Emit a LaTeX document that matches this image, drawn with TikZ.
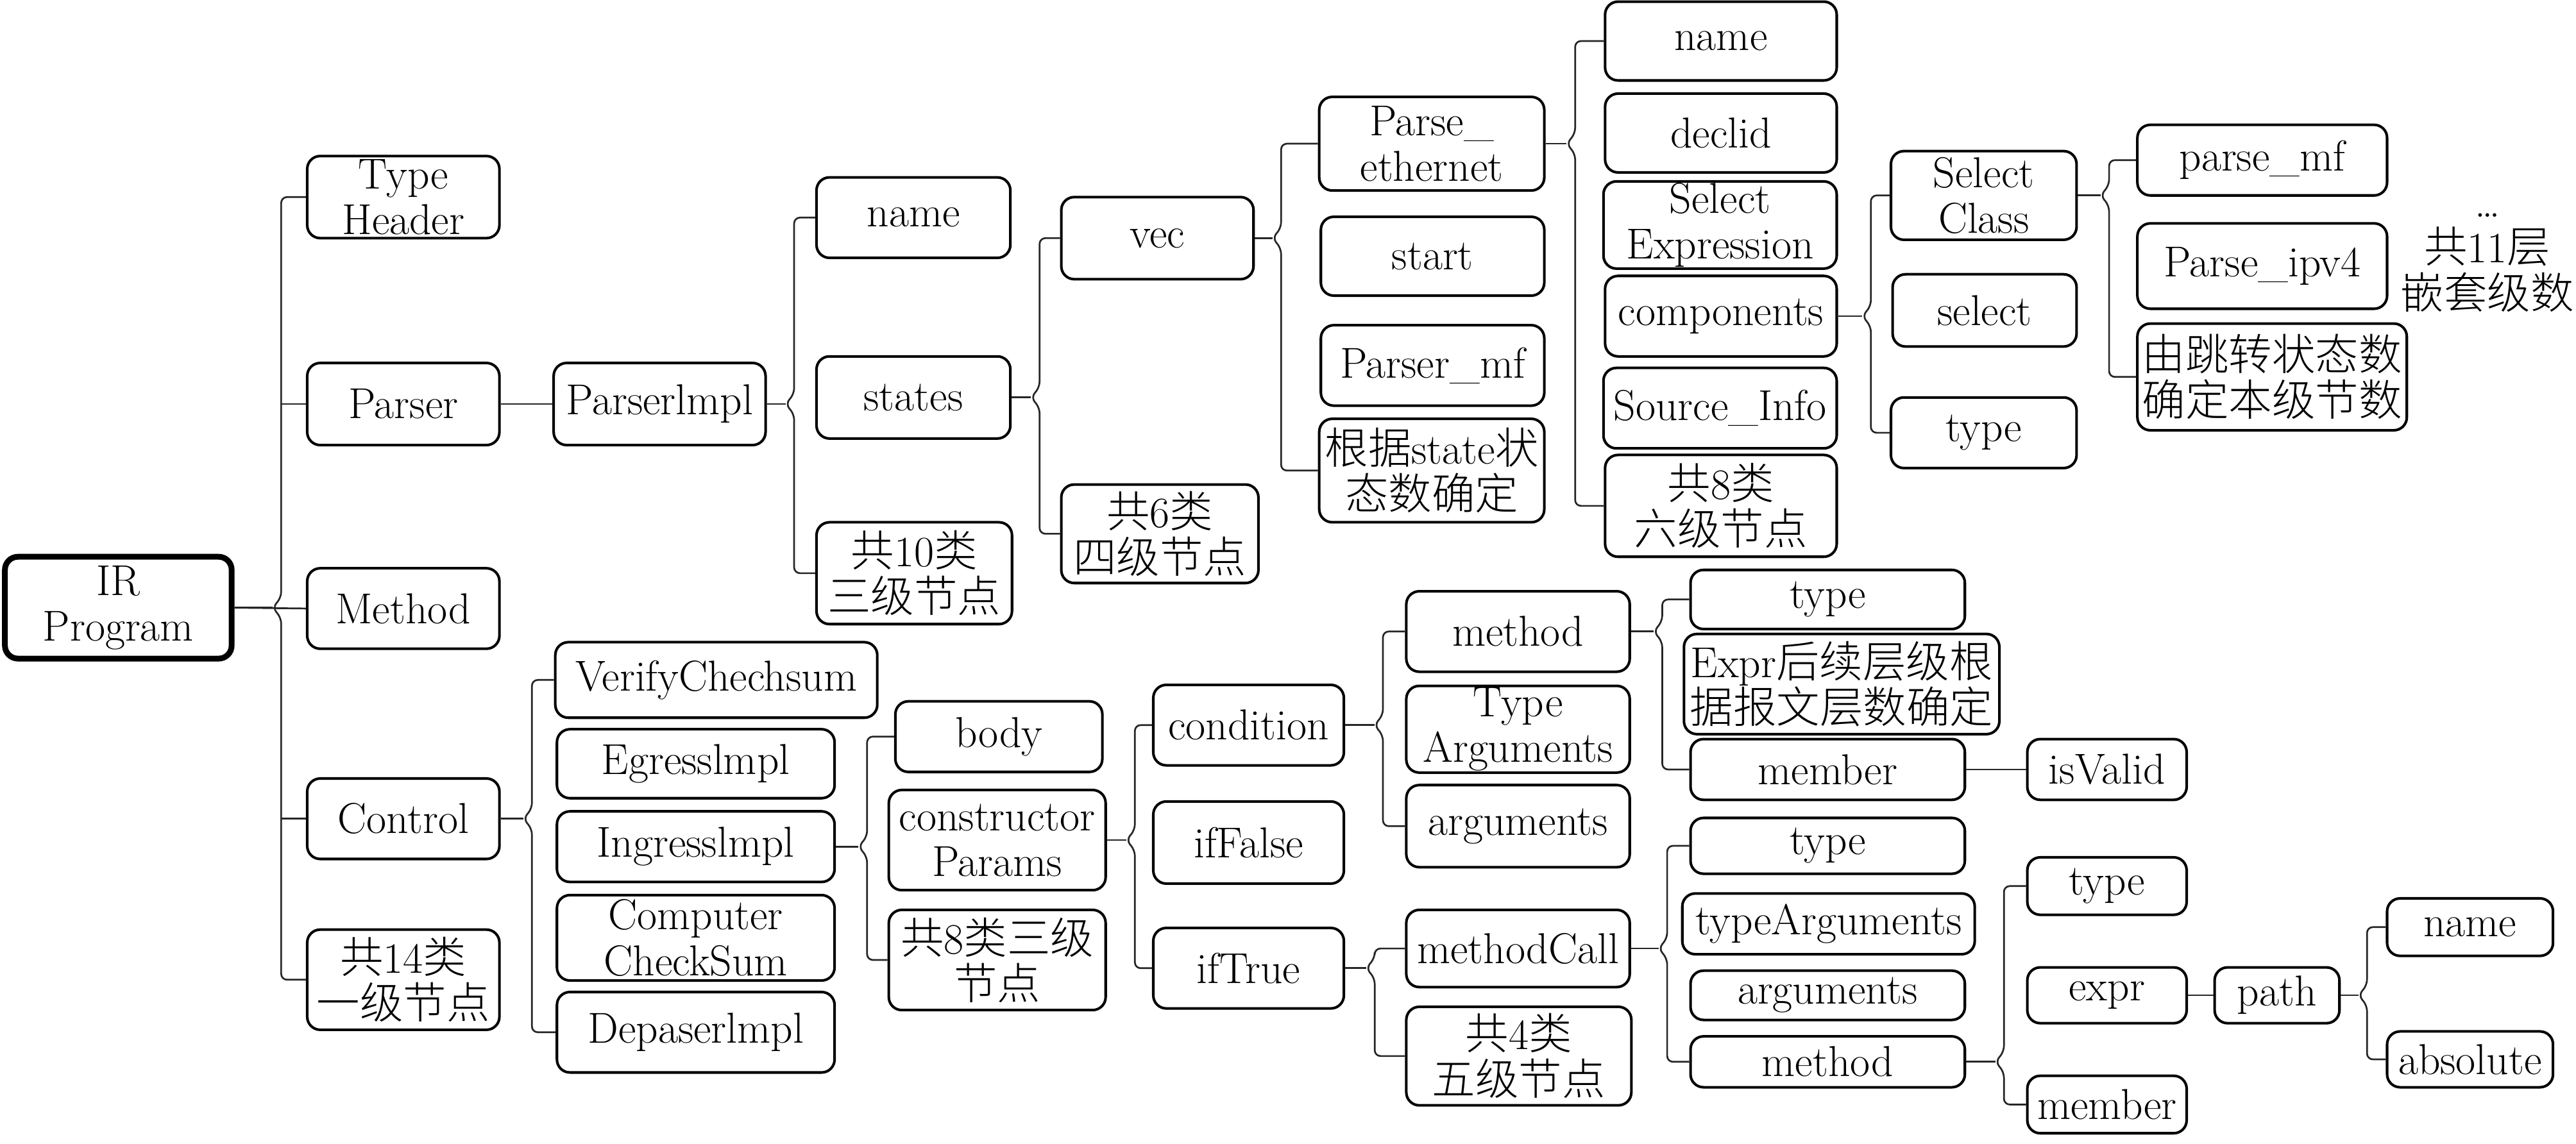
\documentclass[tikz,border=0pt]{standalone}
\usepackage{fontspec}
\usetikzlibrary{calc}
\newfontfamily\cjk{Noto Sans CJK SC}[UprightFont={* Light}]
\newcommand*{\zh}[1]{{\cjk #1}}
\newcommand*{\MapNode}[7][]{%
    % #1 = extra options
    % #2 = node name
    % #3, #4 = top left corner
    % #5, #6 = bottom right corner
    % #7 = text
    \node [box, minimum width={(#5-#3)*0.02cm}, minimum height={(#6-#4)*0.02cm}, #1]
        (#2) at ({(#3+#5)/2}, {(#4+#6)/2}) {#7};
}
\newcommand*{\Brace}[4]{%
    % #1 = parent node
    % #2 = first child
    % #3 = last child
    % #4 = trunk distance from parent
    \coordinate (#1-t) at ($(#1.east)+(#4,0)$);
    \draw [link] (#1.east) -- ($(#1-t)+(-3pt,0)$);
    \draw [link, rounded corners=2pt] (#2.west) -| ($(#1-t)+(0,3.5pt)$)
        -- ($(#1-t)+(-3pt,0)$) -- ($(#1-t)+(0,-3.5pt)$) |- (#3.west);
}

\begin{document}
\begin{tikzpicture}[x=0.02cm, y=-0.02cm,
    box/.style={draw, rounded corners=4.5pt, line width=0.9pt, align=center,
        inner xsep=0pt, inner ysep=0.5pt, font=\fontsize{15}{15.8}\selectfont},
    link/.style={draw=black!85, line width=0.6pt}]
    \useasboundingbox (0,0) rectangle (1568,696.2);

    % root and first level
    \MapNode[line width=2pt]{ir}{3}{339}{141}{401}{IR\\Program}
    \MapNode{typehdr}{187}{95}{304}{145}{Type\\Header}
    \MapNode{parser}{187}{221}{304}{271}{Parser}
    \MapNode{method}{187}{346}{304}{395}{Method}
    \MapNode{control}{187}{474}{304}{523}{Control}
    \MapNode{lvl1}{187}{566}{304}{627}{\zh{共}14\zh{类}\\\zh{一级节点}}

    % parser branch
    \MapNode{pimpl}{337}{221}{466}{271}{Parserlmpl}
    \MapNode{pname}{497}{108}{615}{157}{name}
    \MapNode{states}{497}{217}{615}{267}{states}
    \MapNode{lvl3a}{497}{318}{616}{380}{\zh{共}10\zh{类}\\\zh{三级节点}}
    \MapNode{vec}{646}{120}{763}{170}{vec}
    \MapNode{lvl4}{646}{295}{766}{355}{\zh{共}6\zh{类}\\\zh{四级节点}}
    \MapNode{pether}{803}{59}{940}{116}{Parse\_\\ethernet}
    \MapNode{start}{804}{132}{940}{180}{start}
    \MapNode{pmf}{804}{198}{940}{247}{Parser\_mf}
    \MapNode{bystate}{803}{255}{940}{318}{\zh{根据}state\zh{状}\\\zh{态数确定}}
    \MapNode{ename}{977}{1}{1118}{49}{name}
    \MapNode{declid}{977}{57}{1118}{105}{declid}
    \MapNode{selexpr}{976}{111}{1118}{163}{Select\\Expression}
    \MapNode{comps}{977}{168}{1118}{217}{components}
    \MapNode{srcinfo}{976}{224}{1118}{273}{Source\_Info}
    \MapNode{lvl6}{977}{277}{1118}{339}{\zh{共}8\zh{类}\\\zh{六级节点}}
    \MapNode{selcls}{1151}{92}{1264}{146}{Select\\Class}
    \MapNode{select}{1152}{167}{1264}{211}{select}
    \MapNode{stype}{1151}{242}{1264}{285}{type}
    \MapNode{parsemf}{1301}{76}{1453}{119}{parse\_mf}
    \MapNode{pipv4}{1301}{136}{1453}{188}{Parse\_ipv4}
    \MapNode{byjump}{1301}{197}{1465}{262}{\zh{由跳转状态数}\\\zh{确定本级节数}}
    \node [align=center, font=\fontsize{15}{15.8}\selectfont] (note) at (1514,160)
        {\ldots\\\zh{共}11\zh{层}\\\zh{嵌套级数}};

    % control branch
    \MapNode{verify}{338}{391}{534}{437}{VerifyChechsum}
    \MapNode{egress}{339}{444}{508}{486}{Egresslmpl}
    \MapNode{ingress}{339}{494}{508}{537}{Ingresslmpl}
    \MapNode{cksum}{339}{545}{508}{597}{Computer\\CheckSum}
    \MapNode{deparser}{339}{604}{508}{653}{Depaserlmpl}
    \MapNode{body}{545}{427}{671}{470}{body}
    \MapNode{ctor}{541}{481}{673}{542}{constructor\\Params}
    \MapNode{lvl3b}{541}{554}{673}{615}{\zh{共}8\zh{类三级}\\\zh{节点}}
    \MapNode{cond}{702}{417}{818}{466}{condition}
    \MapNode{iffalse}{702}{488}{818}{538}{ifFalse}
    \MapNode{iftrue}{702}{565}{818}{614}{ifTrue}
    \MapNode{cmethod}{856}{360}{992}{409}{method}
    \MapNode{targs}{856}{419}{992}{469}{Type\\Arguments}
    \MapNode{cargs}{856}{478}{992}{528}{arguments}
    \MapNode{mtype}{1029}{347}{1196}{383}{type}
    \MapNode{exprnote}{1025}{386}{1217}{447}{Expr\zh{后续层级根}\\\zh{据报文层数确定}}
    \MapNode{mmember}{1029}{450}{1196}{487}{member}
    \MapNode{isvalid}{1234}{450}{1331}{487}{isValid}
    \MapNode{mcall}{856}{554}{992}{601}{methodCall}
    \MapNode{lvl5}{856}{613}{993}{673}{\zh{共}4\zh{类}\\\zh{五级节点}}
    \MapNode{ctype}{1029}{498}{1196}{532}{type}
    \MapNode{ctargs}{1024}{544}{1202}{581}{typeArguments}
    \MapNode{cargs2}{1029}{591}{1196}{621}{arguments}
    \MapNode{cmeth}{1029}{631}{1196}{662}{method}
    \MapNode{ttype}{1234}{522}{1331}{557}{type}
    \MapNode{texpr}{1234}{589}{1331}{623}{expr}
    \MapNode{tmember}{1234}{655}{1331}{690}{member}
    \MapNode{path}{1348}{589}{1424}{623}{path}
    \MapNode{pname2}{1453}{547}{1554}{582}{name}
    \MapNode{absolute}{1453}{628}{1554}{662}{absolute}

    % braces
    \Brace{ir}{typehdr}{lvl1}{28.4}
    \Brace{pimpl}{pname}{lvl3a}{16.6}
    \Brace{states}{vec}{lvl4}{17}
    \Brace{vec}{pether}{bystate}{16}
    \Brace{pether}{ename}{lvl6}{18}
    \Brace{comps}{selcls}{stype}{20}
    \Brace{selcls}{parsemf}{byjump}{19}
    \Brace{control}{verify}{deparser}{19}
    \Brace{ingress}{body}{lvl3b}{19}
    \Brace{ctor}{cond}{iftrue}{17}
    \Brace{cond}{cmethod}{cargs}{23}
    \Brace{cmethod}{mtype}{mmember}{19}
    \Brace{iftrue}{mcall}{lvl5}{18}
    \Brace{mcall}{ctype}{cmeth}{22}
    \Brace{cmeth}{ttype}{tmember}{23}
    \Brace{path}{pname2}{absolute}{16}

    % plain links
    \draw [link] (ir.east) -- (method.west);
    \draw [link] (parser.west) -- (parser.west -| ir-t);
    \draw [link] (control.west) -- (control.west -| ir-t);
    \draw [link] (parser) -- (pimpl);
    \draw [link] (mmember) -- (isvalid);
    \draw [link] (texpr) -- (path);
\end{tikzpicture}
\end{document}
